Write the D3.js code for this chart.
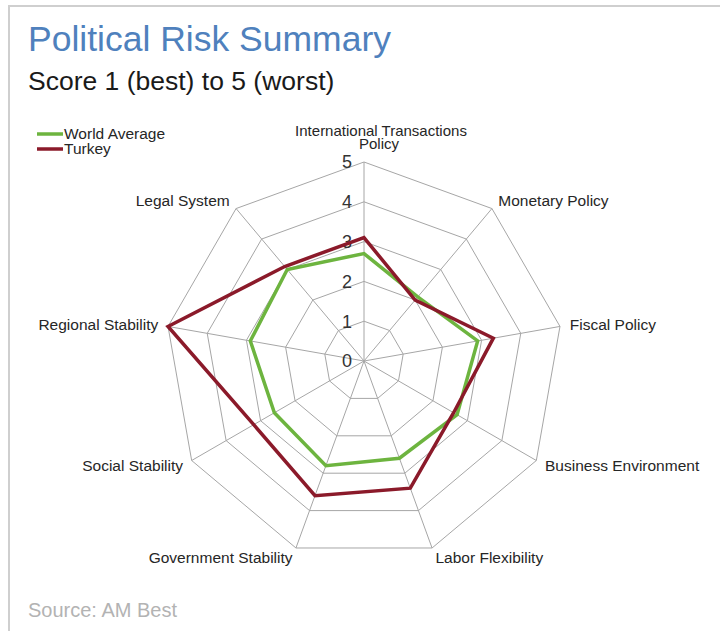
<!DOCTYPE html>
<html>
<head>
<meta charset="utf-8">
<script src="https://cdn.jsdelivr.net/npm/d3@7"></script>
<style>
  html, body { margin: 0; padding: 0; background: #fff; }
  svg { display: block; font-family: "Liberation Sans", Arial, sans-serif; }
</style>
</head>
<body>
<svg id="chart" width="720" height="631"></svg>
<script>
// Political risk scores, 1 (best) to 5 (worst)
const categories = [
  "International Transactions Policy",
  "Monetary Policy",
  "Fiscal Policy",
  "Business Environment",
  "Labor Flexibility",
  "Government Stability",
  "Social Stability",
  "Regional Stability",
  "Legal System"
];
const worldAverage = [2.7, 2.1, 2.9, 2.7, 2.6, 2.8, 2.6, 2.9, 3.0];
const turkey       = [3.1, 2.0, 3.3, 2.6, 3.4, 3.6, 3.2, 5.0, 3.1];
const tickValues   = [0, 1, 2, 3, 4, 5];
const seriesNames  = ["World Average", "Turkey"];

const svg = d3.select("#chart");
const W = 720, H = 631;
const cx = 364, cy = 361, R = 199;

// Frame
svg.append("rect")
  .attr("x", 9).attr("y", 6)
  .attr("width", W + 20).attr("height", H + 20)
  .attr("fill", "#fff").attr("stroke", "#cfcfcf").attr("stroke-width", 2);

// Titles
svg.append("text")
  .attr("x", 28).attr("y", 51)
  .attr("font-size", 35.5).attr("fill", "#4f81bd")
  .text("Political Risk Summary");
svg.append("text")
  .attr("x", 28).attr("y", 90)
  .attr("font-size", 26.5).attr("fill", "#1a1a1a")
  .text("Score 1 (best) to 5 (worst)");
svg.append("text")
  .attr("x", 28).attr("y", 617)
  .attr("font-size", 20).attr("fill", "#b3b3b3")
  .text("Source: AM Best");

const r = d3.scaleLinear().domain([0, 5]).range([0, R]);
const angle = d3.scalePoint().domain(categories).range([0, 2 * Math.PI * (categories.length - 1) / categories.length]);

const g = svg.append("g").attr("transform", `translate(${cx},${cy})`);

const pt = (a, rad) => [rad * Math.sin(a), -rad * Math.cos(a)];

// Grid rings
const ring = d3.line().curve(d3.curveLinearClosed);
g.selectAll("path.ring")
  .data(tickValues.filter(t => t > 0))
  .join("path")
  .attr("class", "ring")
  .attr("d", t => ring(categories.map(c => pt(angle(c), r(t)))))
  .attr("fill", "none").attr("stroke", "#a6a6a6").attr("stroke-width", 1);

// Spokes
g.selectAll("line.spoke")
  .data(categories)
  .join("line")
  .attr("class", "spoke")
  .attr("x1", 0).attr("y1", 0)
  .attr("x2", c => pt(angle(c), r(5))[0])
  .attr("y2", c => pt(angle(c), r(5))[1])
  .attr("stroke", "#a6a6a6").attr("stroke-width", 1);

// Tick labels on the vertical axis
g.selectAll("text.tick")
  .data(tickValues)
  .join("text")
  .attr("class", "tick")
  .attr("x", -12)
  .attr("y", t => -r(t))
  .attr("dy", "0.36em")
  .attr("text-anchor", "end")
  .attr("font-size", 18).attr("fill", "#333")
  .text(t => t);

// Series
const radial = d3.lineRadial()
  .angle((d, i) => angle(categories[i]))
  .radius(d => r(d))
  .curve(d3.curveLinearClosed);

const series = [
  { name: seriesNames[0], values: worldAverage, color: "#6db43f" },
  { name: seriesNames[1], values: turkey, color: "#8b1a2a" }
];

g.selectAll("path.series")
  .data(series)
  .join("path")
  .attr("class", "series")
  .attr("d", s => radial(s.values))
  .attr("fill", "none")
  .attr("stroke", s => s.color)
  .attr("stroke-width", 3.5)
  .attr("stroke-linejoin", "miter");

// Category labels
const labelR = R + 10;
categories.forEach((c, i) => {
  const a = angle(c);
  const [x, y] = pt(a, labelR);
  if (i === 0) {
    const words = c.split(" ");
    const t = g.append("text")
      .attr("text-anchor", "middle")
      .attr("font-size", 15).attr("fill", "#262626");
    t.append("tspan").attr("x", x + 17).attr("y", y - 16).text(words.slice(0, 2).join(" "));
    t.append("tspan").attr("x", x + 15).attr("y", y - 3).text(words.slice(2).join(" "));
    return;
  }
  const s = Math.sin(a);
  g.append("text")
    .attr("x", x).attr("y", y)
    .attr("dy", "0.35em")
    .attr("text-anchor", s > 0.05 ? "start" : (s < -0.05 ? "end" : "middle"))
    .attr("font-size", 15.5).attr("fill", "#262626")
    .text(c);
});

// Legend
const legend = svg.append("g").attr("transform", "translate(37,134)");
legend.selectAll("g")
  .data(series)
  .join("g")
  .attr("transform", (d, i) => `translate(0,${i * 15})`)
  .each(function (d) {
    const e = d3.select(this);
    e.append("line").attr("x1", 0).attr("x2", 26).attr("y1", 0).attr("y2", 0)
      .attr("stroke", d.color).attr("stroke-width", 3.5);
    e.append("text").attr("x", 27).attr("y", 0).attr("dy", "0.32em")
      .attr("font-size", 15.5).attr("fill", "#262626").text(d.name);
  });
</script>
</body>
</html>
